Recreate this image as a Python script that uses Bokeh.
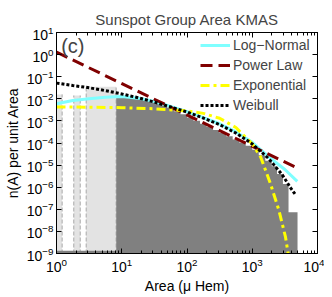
import numpy as np
from bokeh.plotting import figure
from bokeh.models import (LogAxis, FixedTicker, Label, Legend, LegendItem,
                          Range1d, CustomJSTickFormatter)
from bokeh.embed import file_html
from bokeh.resources import INLINE

FONT = "Liberation Sans"

# ---------------- data ----------------
# light-grey histogram bars (area edges in micro-hemispheres, log10 height)
light_left = [1.0, 1.84, 2.85]
light_right = [1.22, 2.31, 8.2]
light_top_log = [-1.8, -1.85, -1.45]

# dark-grey histogram (log10 area bin edges, log10 n top)
dark_edges_log = [0.915, 1.0, 1.1, 1.2, 1.3, 1.4, 1.5, 1.6, 1.7, 1.8, 1.9, 2.0,
                  2.1, 2.2, 2.3, 2.4, 2.5, 2.6, 2.7, 2.8, 2.9, 3.0, 3.1, 3.2,
                  3.3, 3.38, 3.47, 3.556, 3.694]
dark_top_log = [-1.9, -1.9, -1.92, -1.95, -1.98, -2.05, -2.15, -2.28, -2.42,
                -2.56, -2.7, -2.85, -2.99, -3.13, -3.27, -3.41, -3.55, -3.7,
                -3.84, -3.98, -4.12, -4.3, -4.55, -4.8, -5.05, -5.4, -5.85, -7.13]
# near-zero bins along the bottom at small areas
low_edges_log = [0.0, 0.915]
low_top_log = [-8.87]

# fitted distributions (log10 area, log10 n)
lognormal_logA = [0, 0.25, 0.5, 0.75, 1.0, 1.25, 1.5, 1.75, 2.0, 2.25, 2.5, 2.75,
                  3.0, 3.25, 3.5, 3.69]
lognormal_logn = [-2.22, -2.08, -2.0, -1.93, -1.9, -1.97, -2.12, -2.34, -2.58,
                  -2.85, -3.13, -3.5, -3.97, -4.62, -5.2, -5.74]

powerlaw_logA = [0.0, 3.69]
powerlaw_logn = [0.11, -5.13]

exponential_logA = [0, 0.5, 1.0, 1.5, 2.0, 2.25, 2.5, 2.75, 3.0, 3.13, 3.28, 3.41,
                    3.51, 3.55]
exponential_logn = [-2.37, -2.38, -2.4, -2.45, -2.55, -2.66, -2.88, -3.3, -4.04,
                    -4.64, -5.85, -7.06, -8.26, -9.0]

weibull_logA = [0, 0.25, 0.5, 0.75, 1.0, 1.25, 1.5, 1.75, 2.0, 2.25, 2.5, 2.75,
                3.0, 3.25, 3.46, 3.59, 3.66]
weibull_logn = [-1.29, -1.4, -1.5, -1.63, -1.78, -1.95, -2.15, -2.37, -2.6, -2.87,
                -3.17, -3.55, -4.04, -4.7, -5.44, -6.04, -6.33]

x_ticks = [1, 10, 100, 1000, 10000]
y_ticks = [1e-9, 1e-8, 1e-7, 1e-6, 1e-5, 1e-4, 1e-3, 1e-2, 1e-1, 1e0, 1e1]

# ---------------- figure ----------------
p = figure(width=324, height=297, x_axis_type="log", y_axis_type="log",
           x_range=Range1d(1, 1e4), y_range=Range1d(1e-9, 1e1),
           output_backend="svg", toolbar_location=None,
           title="Sunspot Group Area KMAS",
           min_border_left=56, min_border_right=7, min_border_top=32,
           min_border_bottom=44)
p.title.align = "center"
p.title.text_font = FONT
p.title.text_font_size = "15px"
p.title.text_font_style = "normal"
p.title.standoff = 10
p.grid.visible = False
p.outline_line_color = "black"
p.background_fill_color = "white"

xa = p.below[0]
ya = p.left[0]

YB = 1e-9


def pw(a):
    return [10 ** v for v in a]


p.quad(left=light_left, right=light_right, top=pw(light_top_log), bottom=YB,
       fill_color="#e3e3e3", line_color=None)
p.segment(x0=light_left + light_right, y0=YB,
          x1=light_left + light_right, y1=pw(light_top_log) * 2,
          line_color="#a8a8a8", line_dash="4 2", line_width=1)

# dark histogram as one stepped outline
step_x, step_y = [10 ** dark_edges_log[0]], [YB]
for i, t in enumerate(dark_top_log):
    step_x += [10 ** dark_edges_log[i], 10 ** dark_edges_log[i + 1]]
    step_y += [10 ** t, 10 ** t]
step_x.append(10 ** dark_edges_log[-1])
step_y.append(YB)
p.patch(step_x, step_y, fill_color="#808080", line_color=None)
p.quad(left=pw(low_edges_log[:-1]), right=pw(low_edges_log[1:]),
       top=pw(low_top_log), bottom=YB, fill_color="#808080", line_color=None)

r_ln = p.line(pw(lognormal_logA), pw(lognormal_logn), line_color="#7fffff",
              line_width=3)
r_pl = p.line(pw(powerlaw_logA), pw(powerlaw_logn), line_color="#800000",
              line_width=3, line_dash="12 6")
r_ex = p.line(pw(exponential_logA), pw(exponential_logn), line_color="#ffff00",
              line_width=3, line_dash="9 4 3 4")
r_wb = p.line(pw(weibull_logA), pw(weibull_logn), line_color="black",
              line_width=3, line_dash="3 2")

legend = Legend(items=[LegendItem(label="Log\u2212Normal", renderers=[r_ln]),
                       LegendItem(label="Power Law", renderers=[r_pl]),
                       LegendItem(label="Exponential", renderers=[r_ex]),
                       LegendItem(label="Weibull", renderers=[r_wb])],
                location=(144, 140.5), margin=0, padding=0, spacing=4,
                glyph_width=30, glyph_height=14, label_height=14,
                label_standoff=3, label_text_font=FONT,
                label_text_font_size="14px", border_line_color=None,
                background_fill_alpha=0)
p.add_layout(legend, "center")

p.add_layout(Label(x=1.18, y=10 ** 0.37, text="(c)", text_font=FONT,
                   text_font_size="20px", text_baseline="middle"))

# ---------------- axes ----------------
minor_x = [m * d for d in [1, 10, 100, 1000] for m in range(2, 10)]
xa.ticker = FixedTicker(ticks=x_ticks, minor_ticks=minor_x)
ya.ticker = FixedTicker(ticks=y_ticks, minor_ticks=[])
xa.axis_label = "Area (\u03bc Hem)"
ya.axis_label = "n(A) per unit Area"

top_ax = LogAxis(ticker=FixedTicker(ticks=x_ticks, minor_ticks=minor_x),
                 formatter=CustomJSTickFormatter(code="return ''"))
right_ax = LogAxis(ticker=FixedTicker(ticks=y_ticks, minor_ticks=[]),
                   formatter=CustomJSTickFormatter(code="return ''"))
p.add_layout(top_ax, "above")
p.add_layout(right_ax, "right")

for ax in [xa, ya, top_ax, right_ax]:
    ax.major_tick_in = 5
    ax.major_tick_out = 0
    ax.minor_tick_in = 3
    ax.minor_tick_out = 0
    ax.axis_line_color = "black"
    ax.major_tick_line_color = "black"
    ax.minor_tick_line_color = "black"
    ax.major_label_text_font = FONT
    ax.major_label_text_font_size = "14px"
    ax.major_label_text_color = "black"
    ax.axis_label_text_font = FONT
    ax.axis_label_text_font_size = "14px"
    ax.axis_label_text_font_style = "normal"
    ax.axis_label_text_color = "black"
for ax in [top_ax, right_ax]:
    ax.major_label_standoff = 0
    ax.major_label_text_font_size = "1px"

xa.major_label_standoff = 4
ya.major_label_standoff = 3
xa.axis_label_standoff = 3
ya.axis_label_standoff = 3

open("out.html", "w").write(file_html(p, INLINE))
